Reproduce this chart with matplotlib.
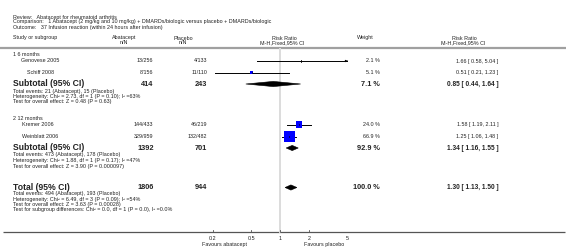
import numpy as np
import matplotlib
matplotlib.use("Agg")
import matplotlib.pyplot as plt
from matplotlib.patches import Polygon, Rectangle

plt.rcParams['font.family'] = ['Liberation Sans', 'DejaVu Sans']

# ---------------- data ----------------
review = "Abatacept for rheumatoid arthritis"
comparison = "1 Abatacept (2 mg/kg and 10 mg/kg) + DMARDs/biologic versus placebo + DMARDs/biologic"
outcome = "37 Infusion reaction (within 24 hours after infusion)"

subgroups = ["1 6 months", "2 12 months"]
studies = [["Genovese 2005", "Schiff 2008"], ["Kremer 2006", "Weinblatt 2006"]]
aba_nN = [["13/256", "8/156"], ["144/433", "329/959"]]
pla_nN = [["4/133", "11/110"], ["46/219", "132/482"]]
weights = [[2.1, 5.1], [24.0, 66.9]]
rr = [[1.66, 0.51], [1.58, 1.25]]
rr_lo = [[0.58, 0.21], [1.19, 1.06]]
rr_hi = [[5.04, 1.23], [2.11, 1.48]]

sub_aba_N = [414, 1392]
sub_pla_N = [243, 701]
sub_weight = [7.1, 92.9]
sub_rr = [0.85, 1.34]
sub_lo = [0.44, 1.16]
sub_hi = [1.64, 1.55]
sub_notes = [
    ["Total events: 21 (Abatacept), 15 (Placebo)",
     "Heterogeneity: Chi\u00b2 = 2.73, df = 1 (P = 0.10); I\u00b2 =63%",
     "Test for overall effect: Z = 0.48 (P = 0.63)"],
    ["Total events: 473 (Abatacept), 178 (Placebo)",
     "Heterogeneity: Chi\u00b2 = 1.88, df = 1 (P = 0.17); I\u00b2 =47%",
     "Test for overall effect: Z = 3.90 (P = 0.000097)"],
]

tot_aba_N = 1806
tot_pla_N = 944
tot_weight = 100.0
tot_rr = 1.30
tot_lo = 1.13
tot_hi = 1.50
tot_notes = ["Total events: 494 (Abatacept), 193 (Placebo)",
             "Heterogeneity: Chi\u00b2 = 6.49, df = 3 (P = 0.09); I\u00b2 =54%",
             "Test for overall effect: Z = 3.63 (P = 0.00028)",
             "Test for subgroup differences: Chi\u00b2 = 0.0, df = 1 (P = 0.0), I\u00b2 =0.0%"]

xticks = [0.2, 0.5, 1, 2, 5]
xtick_labels = ["0.2", "0.5", "1", "2", "5"]
fav_left = "Favours abatacept"
fav_right = "Favours placebo"

# ---------------- layout ----------------
W, H = 566, 248
fig = plt.figure(figsize=(W / 100, H / 100), dpi=100)
fig.patch.set_facecolor("white")

tx = fig.add_axes([0, 0, 1, 1])
tx.set_xlim(0, W)
tx.set_ylim(H, 0)
tx.axis("off")

fx0, fx1 = 213.0, 347.0
fa = fig.add_axes([fx0 / W, 0, (fx1 - fx0) / W, 1])
fa.set_xscale("log")
fa.set_xlim(0.2, 5)
fa.set_ylim(H, 0)
fa.axis("off")
fa.patch.set_alpha(0)

TC = "#222222"
SMALL = 3.9
LABEL = 6.2
NUM = 5.3
RRB = 4.7

def t(x, y, s, ha="left", size=SMALL, bold=False):
    tx.text(x, y, s, ha=ha, va="center", fontsize=size, color=TC,
            fontweight="bold" if bold else "normal")

# header
t(13, 17, "Review:   " + review)
t(13, 22, "Comparison:   " + comparison)
t(13, 27, "Outcome:   " + outcome)
t(13, 38, "Study or subgroup")
t(124, 38, "Abatacept", ha="center"); t(124, 43, "n/N", ha="center")
t(183, 38, "Placebo", ha="center"); t(183, 43, "n/N", ha="center")
t(284, 38, "Risk Ratio", ha="center"); t(282, 43, "M-H,Fixed,95% CI", ha="center")
t(365, 38, "Weight", ha="center")
t(464, 38, "Risk Ratio", ha="center"); t(463, 43, "M-H,Fixed,95% CI", ha="center")
tx.plot([0, W], [47.5, 47.5], color="#a0a0a0", lw=1.6, solid_capstyle="butt")

fa.plot([1, 1], [48.5, 232], color="#dcdcdc", lw=1.4, zorder=0)

X_ABA, X_PLA, X_W, X_RR = 153.5, 207, 380, 498.5
NAME_X = [[21, 27], [22, 22]]

def square(y, r, lo, hi, w):
    x_hi = min(hi, 5)
    fa.plot([lo, x_hi], [y, y], color="black", lw=0.7, zorder=2, clip_on=False)
    if hi > 5:
        fa.annotate("", xy=(5.08, y), xytext=(4.7, y),
                    arrowprops=dict(arrowstyle="-|>", lw=0.5, color="black",
                                    mutation_scale=3), annotation_clip=False)
    side = 1.35 * np.sqrt(w)
    if side < 2.5:
        fa.plot([r, r], [y - 1.3, y + 1.3], color="black", lw=0.6, zorder=3)
    else:
        lx = np.log10(r)
        ppd = (fx1 - fx0) / np.log10(5 / 0.2)
        half = side / 2 / ppd
        fa.add_patch(Rectangle((10 ** (lx - half), y - side / 2),
                               10 ** (lx + half) - 10 ** (lx - half), side,
                               facecolor="#0000ff", edgecolor="none", zorder=3))
        fa.plot([r, r], [y - 0.8, y + 0.8], color="black", lw=0.5, zorder=4)

def diamond(y, r, lo, hi, h=2.6):
    fa.add_patch(Polygon([[lo, y], [r, y - h], [hi, y], [r, y + h]], closed=True,
                         facecolor="black", edgecolor="black", lw=0.4, zorder=3))

sub_title_y = [54, 118]
study_y = [[61, 72.5], [124.5, 136.5]]
sub_y = [84, 148]
note_y = [[91, 96.5, 102], [154.5, 160.5, 166.5]]

for g in range(2):
    t(13, sub_title_y[g], subgroups[g])
    for i in range(2):
        y = study_y[g][i]
        t(NAME_X[g][i], y, studies[g][i])
        t(X_ABA, y, aba_nN[g][i], ha="right")
        t(X_PLA, y, pla_nN[g][i], ha="right")
        t(X_W, y, f"{weights[g][i]:.1f} %", ha="right")
        t(X_RR, y, f"{rr[g][i]:.2f} [ {rr_lo[g][i]:.2f}, {rr_hi[g][i]:.2f} ]", ha="right")
        square(y, rr[g][i], rr_lo[g][i], rr_hi[g][i], weights[g][i])
    y = sub_y[g]
    t(13, y, "Subtotal (95% CI)", size=LABEL, bold=True)
    t(X_ABA, y, str(sub_aba_N[g]), ha="right", size=NUM, bold=True)
    t(X_PLA, y, str(sub_pla_N[g]), ha="right", size=NUM, bold=True)
    t(X_W, y, f"{sub_weight[g]:.1f} %", ha="right", size=NUM, bold=True)
    t(X_RR, y, f"{sub_rr[g]:.2f} [ {sub_lo[g]:.2f}, {sub_hi[g]:.2f} ]", ha="right", size=RRB, bold=True)
    diamond(y, sub_rr[g], sub_lo[g], sub_hi[g])
    for k, s in enumerate(sub_notes[g]):
        t(13, note_y[g][k], s)

y = 187.5
t(13, y, "Total (95% CI)", size=LABEL, bold=True)
t(X_ABA, y, str(tot_aba_N), ha="right", size=NUM, bold=True)
t(X_PLA, y, str(tot_pla_N), ha="right", size=NUM, bold=True)
t(X_W, y, f"{tot_weight:.1f} %", ha="right", size=NUM, bold=True)
t(X_RR, y, f"{tot_rr:.2f} [ {tot_lo:.2f}, {tot_hi:.2f} ]", ha="right", size=RRB, bold=True)
diamond(y, tot_rr, tot_lo, tot_hi)
for k, s in enumerate(tot_notes):
    t(13, 194.0 + 5.1 * k, s)

tx.plot([3, 565], [232, 232], color="#555555", lw=0.9, solid_capstyle="butt")
for v, lab in zip(xticks, xtick_labels):
    fa.plot([v, v], [232, 229.5], color="#555555", lw=0.6)
    fa.text(v, 238, lab, ha="center", va="center", fontsize=SMALL, color=TC)
t(224, 244.5, fav_left, ha="center")
t(324, 244.5, fav_right, ha="center")

fig.savefig("out.png", dpi=100, facecolor="white")
